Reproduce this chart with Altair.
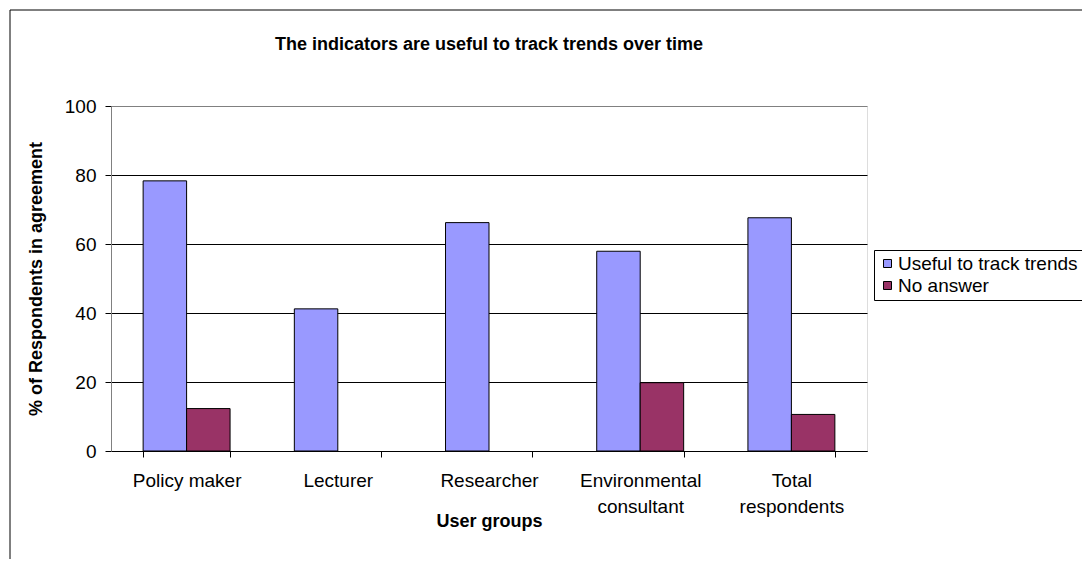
import altair as alt
import pandas as pd

groups = ["Policy maker", "Lecturer", "Researcher", "Environmental consultant", "Total respondents"]
series = ["Useful to track trends", "No answer"]
useful = [78.3, 41.2, 66.2, 57.9, 67.6]
no_answer = [12.3, None, None, 19.8, 10.6]
colors = ["#9999FF", "#993366"]

rows = []
for g, u, n in zip(groups, useful, no_answer):
    if u is not None:
        rows.append({"group": g, "series": series[0], "value": u})
    if n is not None:
        rows.append({"group": g, "series": series[1], "value": n})
df = pd.DataFrame(rows)

FONT = "Liberation Sans"

label_expr = ("datum.label == 'Environmental consultant' ? ['Environmental', 'consultant'] : "
              "datum.label == 'Total respondents' ? ['Total', 'respondents'] : datum.label")

bars = alt.Chart(df).mark_bar(stroke="black", strokeWidth=1).encode(
    x=alt.X("group:N", sort=groups,
            scale=alt.Scale(paddingInner=0.425, paddingOuter=0.2125),
            axis=alt.Axis(title="User groups", labelAngle=0, labelExpr=label_expr,
                          labelFontSize=19, labelFont=FONT, labelColor="black",
                          labelPadding=14, labelLineHeight=26, labelBaseline="top",
                          tickBand="extent", tickSize=6, tickColor="black",
                          domainColor="black", grid=False,
                          titleFont=FONT, titleFontSize=18, titleFontWeight="bold",
                          titleColor="black", titleY=70, titleBaseline="middle")),
    xOffset=alt.XOffset("series:N", sort=series,
                        scale=alt.Scale(paddingInner=0, paddingOuter=0)),
    y=alt.Y("value:Q", scale=alt.Scale(domain=[0, 100]),
            axis=alt.Axis(title="% of Respondents in agreement", values=[0, 20, 40, 60, 80, 100],
                          labelFontSize=19, labelFont=FONT, labelColor="black",
                          labelPadding=9, tickSize=6, tickColor="black",
                          domainColor="#808080",
                          gridColor={"condition": {"test": "datum.value >= 100", "value": "#808080"},
                                     "value": "black"},
                          gridWidth=1,
                          titleFont=FONT, titleFontSize=18, titleFontWeight="bold",
                          titleColor="black", titlePadding=19)),
    color=alt.Color("series:N", sort=series,
                    scale=alt.Scale(domain=series, range=colors),
                    legend=alt.Legend(title=None, orient="none", legendX=763, legendY=144,
                                      strokeColor="black", fillColor="white", padding=4,
                                      symbolType="square", symbolSize=64,
                                      symbolStrokeColor="black", symbolStrokeWidth=1,
                                      labelFont=FONT, labelFontSize=19, labelColor="black",
                                      labelOffset=1, rowPadding=2, labelLimit=300)),
)

frame_df = pd.DataFrame({"k": [0]})
frame_left = alt.Chart(frame_df).mark_rule(color="black", strokeWidth=1).encode(
    x=alt.value(-101), y=alt.value(-96), y2=alt.value(470)
)
frame_top = alt.Chart(frame_df).mark_rule(color="black", strokeWidth=1).encode(
    x=alt.value(-101), x2=alt.value(1010), y=alt.value(-96)
)

chart = alt.layer(bars, frame_left, frame_top).properties(
    width=756, height=345,
    padding={"left": 103, "top": 98, "right": 215, "bottom": 108},
    autosize=alt.AutoSizeParams(type="none"),
    title=alt.TitleParams("The indicators are useful to track trends over time",
                          font=FONT, fontSize=18, fontWeight="bold", color="black",
                          anchor="middle", offset=-44),
).configure_view(
    fill="#C0C0C0", stroke="#808080", strokeWidth=1
).configure(background="white")

chart.save("out.html", embed_options={"renderer": "svg", "actions": False})
